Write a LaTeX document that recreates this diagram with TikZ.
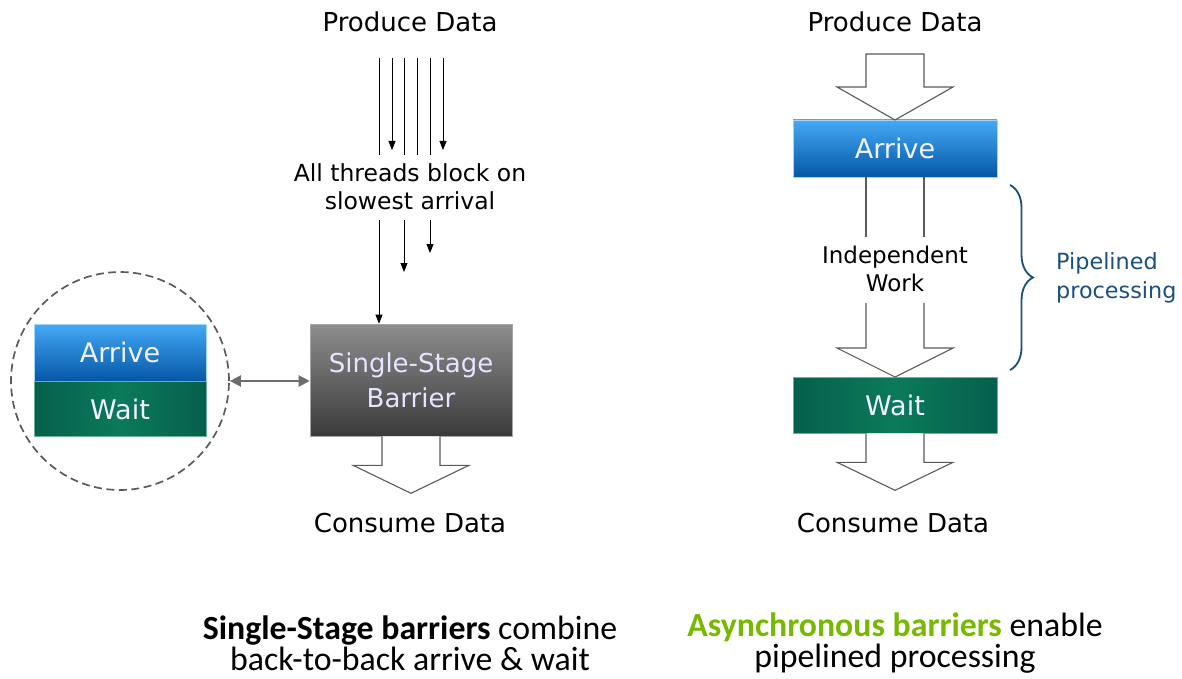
\documentclass[tikz,border=0pt]{standalone}
\usepackage{fontspec}
\setmainfont{DejaVu Sans}
\newfontfamily\capfont{Carlito}
\usetikzlibrary{arrows.meta, positioning, calc, decorations.pathreplacing}

\definecolor{arriveTop}{HTML}{45A9F6}
\definecolor{arriveBot}{HTML}{0457A6}
\definecolor{waitEdge}{HTML}{05604A}
\definecolor{waitMid}{HTML}{0B7A5B}
\definecolor{barTop}{HTML}{8E8E8E}
\definecolor{barBot}{HTML}{3A3A3A}
\definecolor{braceBlue}{HTML}{1B4F7C}
\definecolor{nvGreen}{HTML}{76B900}
\definecolor{lineGray}{HTML}{5A5A5A}

\tikzset{
  plain/.style={font=\fontsize{26}{30}\selectfont, align=center, inner sep=0pt},
  small/.style={font=\fontsize{23.5}{28}\selectfont, align=center, inner sep=0pt},
  boxtext/.style={text=white!95!blue, font=\fontsize{27}{30}\selectfont, inner sep=0pt},
  arrivebox/.style={boxtext, top color=arriveTop, bottom color=arriveBot, draw=arriveTop!50!white, line width=0.6pt},
  waitbox/.style={boxtext, left color=waitEdge, right color=waitEdge, middle color=waitMid, draw=waitMid!60!white, line width=0.6pt},
  thread/.style={line width=0.8pt},
  threadarrow/.style={thread, -{Triangle[length=9pt, width=7pt]}},
  fatline/.style={draw=lineGray, line width=1.1pt, fill=white},
  caption/.style={font=\capfont\fontsize{33.8}{31}\selectfont, align=center, inner sep=0pt}
}

% block arrow hanging down from a point
\newcommand{\fatarrow}[3]{%
  \draw[fatline] ($(#1)+(-29,0)$) -- ++(0,#2) -- ++(-29,0) -- ++(58,#3) -- ++(58,-#3) -- ++(-29,0) -- ++(0,-#2)}

\begin{document}
\begin{tikzpicture}[x=1pt, y=-1pt]
  \useasboundingbox (0,0) rectangle (1182,679);

  % ---- left: single-stage barrier
  \node[plain] (prodL) at (410,22) {Produce Data};
  \node[small] (block) at (410,187) {All threads block on\\slowest arrival};
  \node[minimum width=202pt, minimum height=112pt, top color=barTop, bottom color=barBot,
        draw=gray!70, line width=0.6pt, align=center, text=white!90!blue,
        font=\fontsize{26}{35}\selectfont, inner sep=0pt] (barrier) at (411,380) {Single-Stage\\Barrier};
  \node[plain] (consL) at (410,523) {Consume Data};

  % threads arriving
  \foreach \x/\e/\tip in {379/155/thread, 392/150/threadarrow, 404/155/thread,
                          417/155/thread, 430/155/thread, 443/150/threadarrow}
    \draw[\tip] (\x,58) -- (\x,\e);
  \draw[threadarrow] (379,220) -- (barrier.north -| 379,0);
  \draw[threadarrow] (404,220) -- (404,272);
  \draw[threadarrow] (430,220) -- (430,253);

  \fatarrow{barrier.south}{29}{28};

  % zoomed view of the barrier
  \node[draw=lineGray, dashed, dash pattern=on 8pt off 4.5pt, line width=1.7pt,
        circle, minimum size=218pt] (zoom) at (120,381) {};
  \node[arrivebox, minimum width=172pt, minimum height=57pt] (arriveL) at (120,352.5) {Arrive};
  \node[waitbox, minimum width=172pt, minimum height=55pt, below=0pt of arriveL] (waitL) {Wait};
  \draw[draw=gray!85!black, line width=2.2pt, {Triangle[length=11pt, width=11pt]}-{Triangle[length=11pt, width=11pt]}]
    (zoom.east) -- (barrier.west |- zoom.east);

  % ---- right: asynchronous barrier
  \node[plain] (prodR) at (895,22) {Produce Data};
  \node[arrivebox, minimum width=204pt, minimum height=57pt] (arriveR) at (895,148.5) {Arrive};
  \node[small, font=\fontsize{23}{28}\selectfont] (work) at (895,269) {Independent\\Work};
  \node[waitbox, minimum width=204pt, minimum height=56pt] (waitR) at (895,405) {Wait};
  \node[plain] (consR) at (893,523) {Consume Data};

  \fatarrow{895,54}{33}{33} -- cycle;
  \draw[fatline] ($(arriveR.south)+(-29,0)$) -- ++(0,60);
  \draw[fatline] ($(arriveR.south)+(29,0)$) -- ++(0,60);
  \fatarrow{895,303}{45}{29};
  \fatarrow{waitR.south}{29}{28};

  % brace and its label
  \draw[braceBlue, line width=1.8pt, decorate, decoration={brace, amplitude=23pt}]
    (1010,185) -- (1010,370);
  \node[small, text=braceBlue, align=left, anchor=west, font=\fontsize{22.3}{29}\selectfont] (pipe) at (1056,278) {Pipelined\\processing};

  % ---- captions
  \node[caption] (capL) at (410,643) {\textbf{Single-Stage barriers} combine\\back-to-back arrive \& wait};
  \node[caption] (capR) at (895,643) {\textcolor{nvGreen}{\textbf{Asynchronous barriers}} enable\\pipelined processing};
\end{tikzpicture}
\end{document}
